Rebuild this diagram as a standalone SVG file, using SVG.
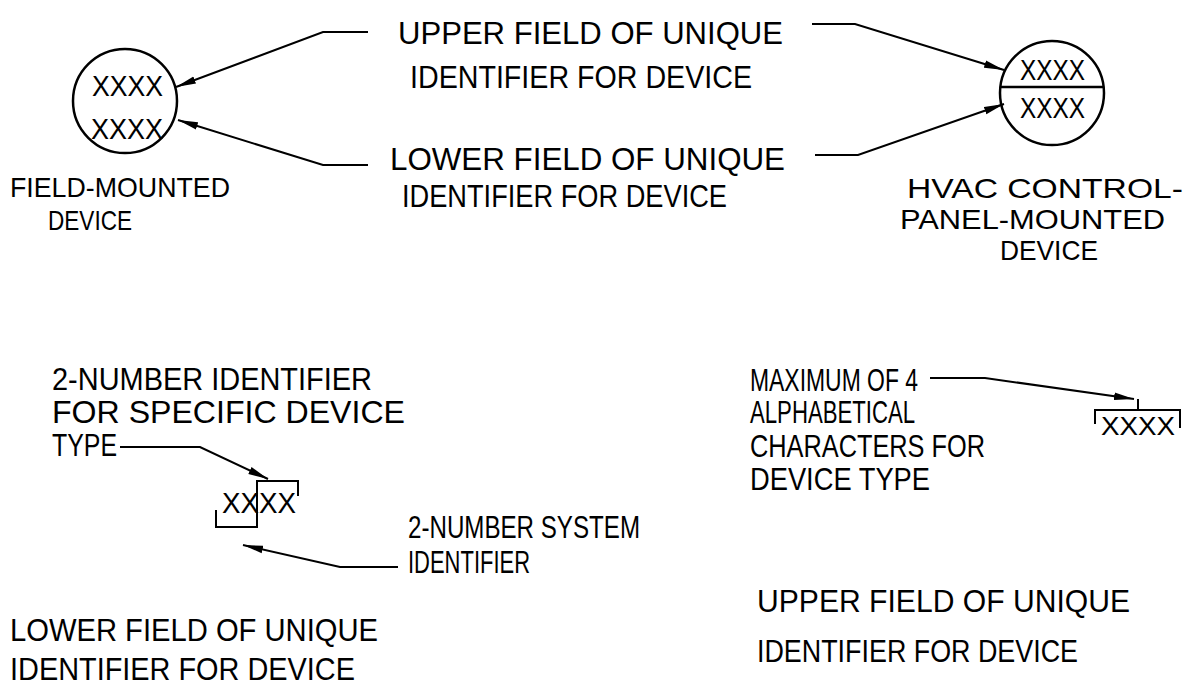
<svg xmlns="http://www.w3.org/2000/svg" width="1186" height="687" viewBox="0 0 1186 687">
<style>
text{font-family:"Liberation Sans",Arial,sans-serif;font-size:31px;fill:#000}
.x{font-size:30px}
.xs{font-size:26px}
.h{font-size:28px}
.ln{fill:none;stroke:#000;stroke-width:2}
.br{fill:none;stroke:#000;stroke-width:2}
.c{fill:none;stroke:#000;stroke-width:2.5}
</style>
<defs>
<marker id="ah" markerUnits="userSpaceOnUse" markerWidth="22" markerHeight="10" refX="20" refY="5" orient="auto">
<path d="M0,1.2 L20,5 L0,8.8 z" fill="#000"/>
</marker>
</defs>
<rect width="1186" height="687" fill="#fff"/>
<g id="field-device">
<circle class="c" cx="125" cy="101" r="52"/>
<text class="x" x="92" y="96" textLength="71" lengthAdjust="spacingAndGlyphs">XXXX</text>
<text class="x" x="91" y="139" textLength="72" lengthAdjust="spacingAndGlyphs">XXXX</text>
<text class="h" x="10" y="197" textLength="220" lengthAdjust="spacingAndGlyphs">FIELD-MOUNTED</text>
<text class="h" x="48" y="230" textLength="84" lengthAdjust="spacingAndGlyphs">DEVICE</text>
</g>
<g id="panel-device">
<circle class="c" cx="1052" cy="93" r="52"/>
<line class="c" x1="1001" y1="87" x2="1103" y2="87" stroke-width="3"/>
<text class="x" x="1020" y="80" textLength="65" lengthAdjust="spacingAndGlyphs">XXXX</text>
<text class="x" x="1020" y="118" textLength="65" lengthAdjust="spacingAndGlyphs">XXXX</text>
<text class="h" x="907" y="198" textLength="276" lengthAdjust="spacingAndGlyphs">HVAC CONTROL-</text>
<text class="h" x="900" y="229" textLength="265" lengthAdjust="spacingAndGlyphs">PANEL-MOUNTED</text>
<text class="h" x="1000" y="260" textLength="98" lengthAdjust="spacingAndGlyphs">DEVICE</text>
</g>
<g id="label-upper">
<text x="398" y="44" textLength="385" lengthAdjust="spacingAndGlyphs">UPPER FIELD OF UNIQUE</text>
<text x="410" y="88" textLength="342" lengthAdjust="spacingAndGlyphs">IDENTIFIER FOR DEVICE</text>
</g>
<g id="label-lower">
<text x="390" y="170" textLength="395" lengthAdjust="spacingAndGlyphs">LOWER FIELD OF UNIQUE</text>
<text x="402" y="207" textLength="325" lengthAdjust="spacingAndGlyphs">IDENTIFIER FOR DEVICE</text>
</g>
<g id="lower-field-detail">
<text x="52" y="390" textLength="320" lengthAdjust="spacingAndGlyphs">2-NUMBER IDENTIFIER</text>
<text x="52" y="423" textLength="353" lengthAdjust="spacingAndGlyphs">FOR SPECIFIC DEVICE</text>
<text x="52" y="456" textLength="65" lengthAdjust="spacingAndGlyphs">TYPE</text>
<text class="x" x="222" y="513" textLength="74" lengthAdjust="spacingAndGlyphs">XXXX</text>
<path class="br" d="M216,510 V527 H257 V481 H298 V496"/>
<text x="408" y="538" textLength="232" lengthAdjust="spacingAndGlyphs">2-NUMBER SYSTEM</text>
<text x="408" y="573" textLength="122" lengthAdjust="spacingAndGlyphs">IDENTIFIER</text>
<text x="10" y="641" textLength="368" lengthAdjust="spacingAndGlyphs">LOWER FIELD OF UNIQUE</text>
<text x="10" y="680" textLength="345" lengthAdjust="spacingAndGlyphs">IDENTIFIER FOR DEVICE</text>
</g>
<g id="upper-field-detail">
<text x="750" y="391" textLength="168" lengthAdjust="spacingAndGlyphs">MAXIMUM OF 4</text>
<text x="750" y="423" textLength="165" lengthAdjust="spacingAndGlyphs">ALPHABETICAL</text>
<text x="750" y="457" textLength="235" lengthAdjust="spacingAndGlyphs">CHARACTERS FOR</text>
<text x="750" y="490" textLength="180" lengthAdjust="spacingAndGlyphs">DEVICE TYPE</text>
<text class="xs" x="1101" y="435" textLength="74" lengthAdjust="spacingAndGlyphs">XXXX</text>
<path class="br" d="M1095,424 V410 H1180 V428 M1138,410 V399"/>
<text x="757" y="612" textLength="373" lengthAdjust="spacingAndGlyphs">UPPER FIELD OF UNIQUE</text>
<text x="757" y="662" textLength="321" lengthAdjust="spacingAndGlyphs">IDENTIFIER FOR DEVICE</text>
</g>
<g id="connectors">
<polyline class="ln" points="368,32 323,32 176,87" marker-end="url(#ah)"/>
<polyline class="ln" points="368,165 323,165 178,120" marker-end="url(#ah)"/>
<polyline class="ln" points="812,24 855,24 1004,70" marker-end="url(#ah)"/>
<polyline class="ln" points="815,155 858,155 1004,104" marker-end="url(#ah)"/>
<polyline class="ln" points="120,447 200,447 268,479" marker-end="url(#ah)"/>
<polyline class="ln" points="398,567 340,567 243,545" marker-end="url(#ah)"/>
<polyline class="ln" points="930,378 985,378 1134,399" marker-end="url(#ah)"/>
</g>
</svg>
